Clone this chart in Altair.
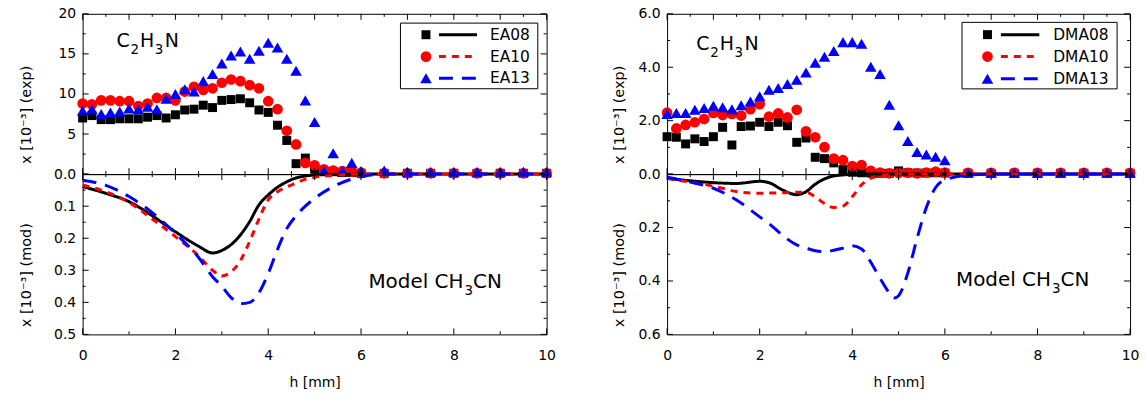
import altair as alt
import pandas as pd

FONT = "DejaVu Sans"

# ---------------- data ----------------
H_EXP = [0.0, 0.2, 0.4, 0.6, 0.8, 1.0, 1.2, 1.4, 1.6, 1.8,
         2.0, 2.2, 2.4, 2.6, 2.8, 3.0, 3.2, 3.4, 3.6, 3.8,
         4.0, 4.2, 4.4, 4.6, 4.8, 5.0, 5.2, 5.4, 5.6, 5.8,
         6.0, 6.5, 7.0, 7.5, 8.0, 8.5, 9.0, 9.5, 10.0]

EA08_EXP = [7.0, 7.3, 6.8, 6.8, 6.9, 6.9, 6.9, 7.1, 7.3, 7.0,
            7.4, 8.0, 8.1, 8.6, 8.3, 9.2, 9.3, 9.4, 8.9, 8.0,
            7.7, 6.1, 4.2, 1.3, 2.0, 0.6, 0.4, 0.3, 0.2, 0.2,
            0.1, 0.1, 0.1, 0.1, 0.1, 0.1, 0.1, 0.1, 0.1]
EA10_EXP = [8.8, 8.7, 9.2, 9.2, 9.1, 9.1, 8.5, 8.8, 9.5, 9.5,
            9.2, 10.3, 10.9, 10.5, 10.7, 11.4, 11.8, 11.6, 11.1, 10.7,
            9.1, 8.1, 5.4, 3.7, 1.4, 1.1, 0.6, 0.45, 0.37, 0.29,
            0.2, 0.1, 0.1, 0.1, 0.1, 0.1, 0.1, 0.1, 0.1]
EA13_EXP = [7.9, 8.1, 7.5, 7.7, 7.8, 8.2, 8.1, 8.4, 8.1, 9.4,
            10.0, 10.6, 10.3, 11.6, 12.5, 13.8, 14.8, 15.3, 14.4, 15.4,
            16.4, 15.8, 14.4, 12.9, 9.2, 6.5, 0.4, 2.6, 0.4, 1.4,
            0.4, 0.45, 0.3, 0.3, 0.3, 0.3, 0.3, 0.3, 0.3]

DMA08_EXP = [1.40, 1.38, 1.13, 1.32, 1.22, 1.40, 1.75, 1.09, 1.78, 1.80,
             1.94, 1.78, 1.94, 1.81, 1.19, 1.35, 0.63, 0.58, 0.42, 0.17,
             0.07, 0.05, 0.04, 0.03, 0.03, 0.12, 0.05, 0.04, 0.04, 0.05,
             0.04, 0.03, 0.03, 0.03, 0.03, 0.03, 0.03, 0.03, 0.03]
DMA10_EXP = [2.30, 1.71, 1.84, 1.94, 2.06, 2.29, 2.21, 2.25, 2.19, 2.43,
             2.62, 2.15, 2.27, 2.12, 2.41, 1.60, 1.38, 1.01, 0.58, 0.52,
             0.30, 0.34, 0.12, 0.06, 0.03, 0.04, 0.05, 0.03, 0.06, 0.09,
             0.06, 0.05, 0.05, 0.05, 0.05, 0.05, 0.05, 0.05, 0.05]
DMA13_EXP = [2.25, 2.29, 2.29, 2.41, 2.47, 2.56, 2.50, 2.43, 2.58, 2.72,
             2.91, 3.16, 3.22, 3.37, 3.53, 3.80, 4.17, 4.39, 4.61, 4.94,
             4.94, 4.88, 4.02, 3.75, 2.60, 1.83, 1.24, 0.83, 0.73, 0.65,
             0.52, 0.05, 0.05, 0.05, 0.05, 0.05, 0.05, 0.05, 0.05]

H_MOD_L = [0.0, 0.5, 1.0, 1.5, 2.0, 2.5, 2.8, 3.0, 3.2, 3.4, 3.6, 3.8, 4.0,
           4.2, 4.4, 4.6, 4.8, 5.0, 5.5, 6.0, 6.5, 7.0, 8.0, 9.0, 10.0]
EA08_MOD = [0.039, 0.060, 0.086, 0.13, 0.18, 0.225, 0.246, 0.238, 0.22, 0.19, 0.148, 0.096, 0.065,
            0.041, 0.024, 0.012, 0.006, 0.003, 0.001, 0.0, 0.0, 0.0, 0.0, 0.0, 0.0]
EA10_MOD = [0.034, 0.055, 0.088, 0.14, 0.195, 0.255, 0.30, 0.318, 0.305, 0.27, 0.21, 0.14, 0.08,
            0.055, 0.04, 0.028, 0.016, 0.01, 0.003, 0.0, 0.0, 0.0, 0.0, 0.0, 0.0]
EA13_MOD = [0.019, 0.035, 0.07, 0.12, 0.185, 0.26, 0.32, 0.35, 0.385, 0.404, 0.40, 0.37, 0.31,
            0.235, 0.17, 0.13, 0.10, 0.076, 0.032, 0.008, 0.0, 0.0, 0.0, 0.0, 0.0]

H_MOD_R = [0.0, 0.5, 1.0, 1.5, 2.0, 2.2, 2.5, 2.8, 3.0, 3.2, 3.4, 3.6, 3.8, 4.0, 4.2,
           4.4, 4.6, 4.8, 4.9, 5.0, 5.2, 5.4, 5.6, 5.8, 6.0, 6.5, 7.0, 8.0, 9.0, 10.0]
DMA08_MOD = [0.016, 0.025, 0.032, 0.035, 0.027, 0.032, 0.06, 0.077, 0.066, 0.038, 0.018, 0.007, 0.003, 0.001, 0.0,
             0.0, 0.0, 0.0, 0.0, 0.0, 0.0, 0.0, 0.0, 0.0, 0.0, 0.0, 0.0, 0.0, 0.0, 0.0]
DMA10_MOD = [0.016, 0.03, 0.045, 0.065, 0.072, 0.071, 0.07, 0.068, 0.068, 0.085, 0.11, 0.125, 0.12, 0.085, 0.04,
             0.015, 0.006, 0.002, 0.001, 0.0, 0.0, 0.0, 0.0, 0.0, 0.0, 0.0, 0.0, 0.0, 0.0, 0.0]
DMA13_MOD = [0.012, 0.03, 0.053, 0.097, 0.16, 0.185, 0.23, 0.265, 0.277, 0.287, 0.29, 0.285, 0.277, 0.268, 0.28,
             0.33, 0.39, 0.445, 0.464, 0.455, 0.37, 0.24, 0.125, 0.05, 0.022, 0.004, 0.0, 0.0, 0.0, 0.0]

NAMES_L = ["EA08", "EA10", "EA13"]
NAMES_R = ["DMA08", "DMA10", "DMA13"]
COLORS = ["#000000", "#ff0000", "#0000ff"]
SHAPES = ["square", "circle", "triangle-up"]
SIZES = [81, 115, 135]
DASHES = [[1, 0], [7, 6], [14, 9]]

# tick positions
X_MAJ_FINE = [0, 1, 2, 3, 4, 5, 6, 7, 8, 9, 10]
X_MIN_FINE = [0.5, 1.5, 2.5, 3.5, 4.5, 5.5, 6.5, 7.5, 8.5, 9.5]
X_MAJ_COARSE = [0, 2, 4, 6, 8, 10]
X_MIN_COARSE = [1, 3, 5, 7, 9]
X_LABELS = [0, 2, 4, 6, 8, 10]

YL_TOP_MAJ = [0, 5, 10, 15, 20]
YL_TOP_MIN = [2.5, 7.5, 12.5, 17.5]
YL_TOP_LAB = [5, 10, 15, 20]
YL_BOT_MAJ = [0, 0.1, 0.2, 0.3, 0.4, 0.5]
YL_BOT_MIN = [0.05, 0.15, 0.25, 0.35, 0.45]
YR_TOP_MAJ = [0, 2, 4, 6]
YR_TOP_MIN = [1, 3, 5]
YR_TOP_LAB = [2, 4, 6]
YR_BOT_MAJ = [0, 0.2, 0.4, 0.6]
YR_BOT_MIN = [0.1, 0.3, 0.5]

FORMULA_PARTS = ["C", "2", "H", "3", "N"]
MODEL_PARTS = ["Model CH", "3", "CN"]

TITLE_EXP = "x [10\u207b\u00b3] (exp)"
TITLE_MOD = "x [10\u207b\u00b3] (mod)"
TITLE_X = "h [mm]"

# ---------------- helpers ----------------
H_PANEL = 161
XS = alt.Scale(domain=[0, 10], nice=False, zero=False)


def y_axis(values, fmt, title, title_x):
    return alt.Axis(values=values, format=fmt, title=title, domain=False, ticks=False, grid=False,
                    labelFont=FONT, labelFontSize=14, labelColor="black", labelPadding=7,
                    titleFont=FONT, titleFontSize=14.5, titleFontWeight="normal", titleColor="black",
                    titleX=title_x, titleY=101, titleAngle=270, titleAlign="center",
                    titleBaseline="middle")


X_AXIS = alt.Axis(values=X_LABELS, format="d", title=TITLE_X, domain=False, ticks=False, grid=False,
                  labelFlush=False, labelFont=FONT, labelFontSize=14, labelColor="black",
                  labelPadding=14, titleFont=FONT, titleFontSize=14, titleFontWeight="normal",
                  titleColor="black", titleY=41, titleBaseline="top")


def panel(W, exp_vals, names, top_dom, top_maj, top_min, top_lab, top_fmt,
          mod_h, mod_vals, bot_dom, bot_maj, bot_min, bot_fmt, title_x,
          legend, formula_pos, model_pos, model_offsets):
    ys_top = alt.Scale(domain=top_dom, nice=False, zero=False)
    ys_bot = alt.Scale(domain=bot_dom, nice=False, zero=False, reverse=True)
    ax_top = y_axis(top_lab, top_fmt, TITLE_EXP, title_x)
    ax_bot = y_axis(bot_maj, bot_fmt, TITLE_MOD, title_x)

    def xt(field):  # top chart x: no axis drawn
        return alt.X(f"{field}:Q", scale=XS, axis=None)

    def xb(field):  # bottom chart x: labelled axis on every layer (identical)
        return alt.X(f"{field}:Q", scale=XS, axis=X_AXIS)

    def yt(field):
        return alt.Y(f"{field}:Q", scale=ys_top, axis=ax_top)

    def yb(field):
        return alt.Y(f"{field}:Q", scale=ys_bot, axis=ax_bot)

    def ticks_x(xf, vals, length, edge):
        df = pd.DataFrame({"t": vals})
        y1, y2 = (H_PANEL, H_PANEL - length) if edge == "bottom" else (0, length)
        return alt.Chart(df).mark_rule(color="black", strokeWidth=1).encode(
            x=xf("t"), y=alt.value(y1), y2=alt.value(y2))

    def ticks_y(yf, vals, length, edge):
        df = pd.DataFrame({"t": vals})
        x1, x2 = (0, length) if edge == "left" else (W, W - length)
        return alt.Chart(df).mark_rule(color="black", strokeWidth=1).encode(
            y=yf("t"), x=alt.value(x1), x2=alt.value(x2))

    def rich_text(xf, yf, h, v, parts, offsets, dys, sizes):
        df = pd.DataFrame({"h": [h], "v": [v]})
        out = []
        for t, dx, dy, s in zip(parts, offsets, dys, sizes):
            out.append(alt.Chart(df).mark_text(text=t, align="left", baseline="middle", dx=dx, dy=dy,
                                               fontSize=s, font=FONT, color="black").encode(
                x=xf("h"), y=yf("v")))
        return out

    # ---- top (experiment) ----
    layers = []
    for i in range(3):
        df = pd.DataFrame({"h": H_EXP, "v": exp_vals[i]})
        layers.append(alt.Chart(df).mark_point(shape=SHAPES[i], filled=True, size=SIZES[i],
                                               color=COLORS[i], opacity=1, strokeWidth=0).encode(
            x=xt("h"), y=yt("v")))
    layers += [
        ticks_x(xt, X_MAJ_FINE, 6, "bottom"), ticks_x(xt, X_MIN_FINE, 3, "bottom"),
        ticks_x(xt, X_MAJ_FINE, 6, "top"), ticks_x(xt, X_MIN_FINE, 3, "top"),
        ticks_y(yt, top_maj, 6, "left"), ticks_y(yt, top_min, 3, "left"),
        ticks_y(yt, top_maj, 6, "right"), ticks_y(yt, top_min, 3, "right"),
    ]
    bx1, bx2, by1, by2, rows, mx, lx1, lx2, tx = legend
    box = pd.DataFrame({"x1": [bx1], "x2": [bx2], "y1": [by1], "y2": [by2]})
    layers.append(alt.Chart(box).mark_rect(fill="white", stroke="black", strokeWidth=1).encode(
        x=xt("x1"), x2="x2:Q", y=yt("y1"), y2="y2:Q"))
    for i in range(3):
        seg = pd.DataFrame({"x1": [lx1], "x2": [lx2], "y": [rows[i]]})
        layers.append(alt.Chart(seg).mark_rule(color=COLORS[i], strokeWidth=3, strokeDash=DASHES[i],
                                               strokeCap="butt").encode(
            x=xt("x1"), x2="x2:Q", y=yt("y")))
        mk = pd.DataFrame({"x": [mx], "y": [rows[i]]})
        layers.append(alt.Chart(mk).mark_point(shape=SHAPES[i], filled=True, size=SIZES[i],
                                               color=COLORS[i], opacity=1, strokeWidth=0).encode(
            x=xt("x"), y=yt("y")))
        lab = pd.DataFrame({"x": [tx], "y": [rows[i]], "label": [names[i]]})
        layers.append(alt.Chart(lab).mark_text(align="left", baseline="middle", fontSize=15.5,
                                               font=FONT, color="black").encode(
            x=xt("x"), y=yt("y"), text="label:N"))
    fh, fv = formula_pos
    layers += rich_text(xt, yt, fh, fv, FORMULA_PARTS, [0, 14, 23.5, 38.5, 48.5], [0, 9, 0, 9, 0],
                        [19, 13.5, 19, 13.5, 19])
    top = alt.layer(*layers).properties(width=W, height=H_PANEL)

    # ---- bottom (model) ----
    blayers = []
    for i in range(3):
        df = pd.DataFrame({"h": mod_h, "v": mod_vals[i]})
        blayers.append(alt.Chart(df).mark_line(color=COLORS[i], strokeWidth=3, strokeDash=DASHES[i],
                                               interpolate="monotone", strokeCap="butt").encode(
            x=xb("h"), y=yb("v")))
    blayers += [
        ticks_x(xb, X_MAJ_COARSE, 6, "bottom"), ticks_x(xb, X_MIN_COARSE, 3, "bottom"),
        ticks_x(xb, X_MAJ_FINE, 6, "top"), ticks_x(xb, X_MIN_FINE, 3, "top"),
        ticks_y(yb, bot_maj, 6, "left"), ticks_y(yb, bot_min, 3, "left"),
        ticks_y(yb, bot_maj, 6, "right"), ticks_y(yb, bot_min, 3, "right"),
    ]
    mh, mv = model_pos
    blayers += rich_text(xb, yb, mh, mv, MODEL_PARTS, model_offsets, [0, 9, 0], [20, 13.5, 20])
    bottom = alt.layer(*blayers).properties(width=W, height=H_PANEL)

    return alt.vconcat(top, bottom, spacing=0, bounds="flush").resolve_scale(x="independent", y="independent")


left = panel(466, [EA08_EXP, EA10_EXP, EA13_EXP], NAMES_L, [0, 20], YL_TOP_MAJ, YL_TOP_MIN, YL_TOP_LAB, "d",
             H_MOD_L, [EA08_MOD, EA10_MOD, EA13_MOD], [0, 0.5], YL_BOT_MAJ, YL_BOT_MIN, ".1f", -56,
             (6.85, 9.81, 18.84, 10.65, [17.39, 14.66, 11.96], 7.40, 7.68, 8.50, 8.78),
             (0.73, 16.6), (6.16, 0.336), [0, 96.5, 105])

right = panel(465, [DMA08_EXP, DMA10_EXP, DMA13_EXP], NAMES_R, [0, 6], YR_TOP_MAJ, YR_TOP_MIN, YR_TOP_LAB, ".1f",
              H_MOD_R, [DMA08_MOD, DMA10_MOD, DMA13_MOD], [0, 0.6], YR_BOT_MAJ, YR_BOT_MIN, ".1f", -48,
              (6.37, 9.72, 5.68, 3.19, [5.22, 4.40, 3.57], 6.92, 7.21, 8.04, 8.34),
              (0.63, 4.88), (6.24, 0.397), [0, 96.5, 105])

chart = alt.hconcat(left, right, spacing=54).resolve_scale(x="independent", y="independent").properties(
    padding={"left": 18, "top": 5, "right": 5, "bottom": 5}, background="white"
).configure_view(stroke="black", strokeWidth=1)

chart.save("out.html", embed_options={"renderer": "svg", "actions": False})
